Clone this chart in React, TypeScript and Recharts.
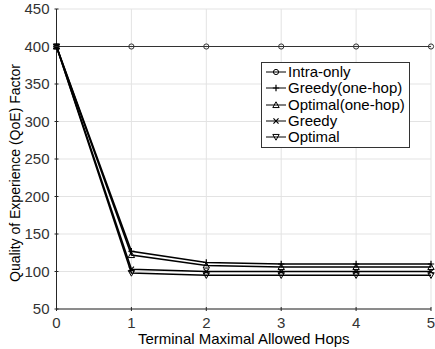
import {
  LineChart, Line, XAxis, YAxis, CartesianGrid,
} from "recharts";

const hops = [0, 1, 2, 3, 4, 5];
const intraOnly = [400, 400, 400, 400, 400, 400];
const greedyOneHop = [400, 127, 112, 110, 110, 110];
const optimalOneHop = [400, 122, 108, 106, 106, 106];
const greedy = [400, 103, 100, 100, 100, 100];
const optimal = [400, 98, 95, 95, 95, 95];

const xTicks = [0, 1, 2, 3, 4, 5];
const yTicks = [50, 100, 150, 200, 250, 300, 350, 400, 450];

const series = [
  { key: "intra", name: "Intra-only", values: intraOnly, shape: "circle", color: "#333", width: 1.2 },
  { key: "gOne", name: "Greedy(one-hop)", values: greedyOneHop, shape: "plus", color: "#000", width: 1.6 },
  { key: "oOne", name: "Optimal(one-hop)", values: optimalOneHop, shape: "tri", color: "#000", width: 1.6 },
  { key: "g", name: "Greedy", values: greedy, shape: "x", color: "#000", width: 1.6 },
  { key: "o", name: "Optimal", values: optimal, shape: "triDown", color: "#000", width: 1.6 },
];

const data = hops.map((h, i) => {
  const row: Record<string, number> = { hop: h };
  series.forEach((s) => { row[s.key] = s.values[i]; });
  return row;
});

const FONT = "'Liberation Sans', Arial, Helvetica, sans-serif";
const TEXT = "#333";

const Marker = ({ shape, cx, cy, color }: { shape: string; cx: number; cy: number; color: string }) => {
  const s = 3.2;
  if (shape === "circle") return <circle cx={cx} cy={cy} r={2.6} fill="none" stroke={color} strokeWidth={1} />;
  if (shape === "plus")
    return <path d={`M${cx - s},${cy}H${cx + s}M${cx},${cy - s}V${cy + s}`} stroke={color} strokeWidth={1.2} />;
  if (shape === "x")
    return <path d={`M${cx - s * 0.8},${cy - s * 0.8}L${cx + s * 0.8},${cy + s * 0.8}M${cx - s * 0.8},${cy + s * 0.8}L${cx + s * 0.8},${cy - s * 0.8}`} stroke={color} strokeWidth={1.2} />;
  if (shape === "tri")
    return <polygon points={`${cx},${cy - s} ${cx - s},${cy + s * 0.8} ${cx + s},${cy + s * 0.8}`} fill="none" stroke={color} strokeWidth={1} />;
  return <polygon points={`${cx},${cy + s} ${cx - s},${cy - s * 0.8} ${cx + s},${cy - s * 0.8}`} fill="none" stroke={color} strokeWidth={1} />;
};

const makeDot = (shape: string, color: string) => (props: any) => (
  <Marker key={`${shape}-${props.index}`} shape={shape} cx={props.cx} cy={props.cy} color={color} />
);

const BottomTick = (props: any) => (
  <g>
    <line x1={props.x} y1={props.y} x2={props.x} y2={props.y - 4} stroke="#262626" />
    <text x={props.x} y={props.y + 17} textAnchor="middle" fontSize={15} fill={TEXT} fontFamily={FONT}>
      {props.payload.value}
    </text>
  </g>
);

const TopTick = (props: any) => (
  <line x1={props.x} y1={props.y} x2={props.x} y2={props.y + 4} stroke="#262626" />
);

const LeftTick = (props: any) => (
  <g>
    <line x1={props.x} y1={props.y} x2={props.x + 4} y2={props.y} stroke="#262626" />
    <text x={props.x - 5} y={props.y + 5} textAnchor="end" fontSize={15} fill={TEXT} fontFamily={FONT}>
      {props.payload.value}
    </text>
  </g>
);

const RightTick = (props: any) => (
  <line x1={props.x} y1={props.y} x2={props.x - 4} y2={props.y} stroke="#262626" />
);

const LegendBox = () => (
  <div
    style={{
      position: "absolute",
      left: 261,
      top: 62,
      width: 149,
      boxSizing: "border-box",
      border: "1px solid #333",
      background: "#fff",
      padding: "1px 0 2px 3px",
      fontFamily: FONT,
      fontSize: 15,
      color: "#000",
      lineHeight: "16.3px",
      whiteSpace: "nowrap",
    }}
  >
    {series.map((s) => (
      <div key={s.key} style={{ display: "flex", alignItems: "center" }}>
        <svg width={22} height={12} style={{ marginRight: 1 }}>
          <line x1={1} y1={6} x2={21} y2={6} stroke="#000" strokeWidth={1} />
          <Marker shape={s.shape} cx={11} cy={6} color="#000" />
        </svg>
        <span>{s.name}</span>
      </div>
    ))}
  </div>
);

export default function App() {
  return (
    <div style={{ position: "absolute", left: 0, top: 0, width: 435, height: 349, background: "#fff" }}>
      <LineChart width={435} height={349} data={data} margin={{ top: 9, right: 4, bottom: 0, left: 0 }}>
        <CartesianGrid stroke="#e3e3e3" strokeWidth={1} />
        <XAxis
          dataKey="hop"
          type="number"
          domain={[0, 5]}
          ticks={xTicks}
          tickSize={0}
          tickLine={false}
          tick={<BottomTick />}
          axisLine={{ stroke: "#262626" }}
          height={40}
          label={{ value: "Terminal Maximal Allowed Hops", position: "insideBottom", offset: 5, fontSize: 15, fill: "#000", fontFamily: FONT }}
        />
        <XAxis
          xAxisId="top"
          orientation="top"
          type="number"
          domain={[0, 5]}
          ticks={xTicks}
          tickSize={0}
          tickLine={false}
          tick={<TopTick />}
          axisLine={{ stroke: "#262626" }}
          height={0}
        />
        <YAxis
          type="number"
          domain={[50, 450]}
          ticks={yTicks}
          tickSize={0}
          tickLine={false}
          tick={<LeftTick />}
          axisLine={{ stroke: "#262626" }}
          width={56.5}
          label={{ value: "Quality of Experience (QoE) Factor", angle: -90, position: "insideLeft", offset: 15, dy: 123, fontSize: 14, fill: "#000", fontFamily: FONT }}
        />
        <YAxis
          yAxisId="right"
          orientation="right"
          type="number"
          domain={[50, 450]}
          ticks={yTicks}
          tickSize={0}
          tickLine={false}
          tick={<RightTick />}
          axisLine={{ stroke: "#262626" }}
          width={0}
        />
        {series.map((s) => (
          <Line
            key={s.key}
            dataKey={s.key}
            name={s.name}
            type="linear"
            stroke={s.color}
            strokeWidth={s.width}
            dot={makeDot(s.shape, s.color)}
            activeDot={false}
            isAnimationActive={false}
          />
        ))}
      </LineChart>
      <LegendBox />
    </div>
  );
}
